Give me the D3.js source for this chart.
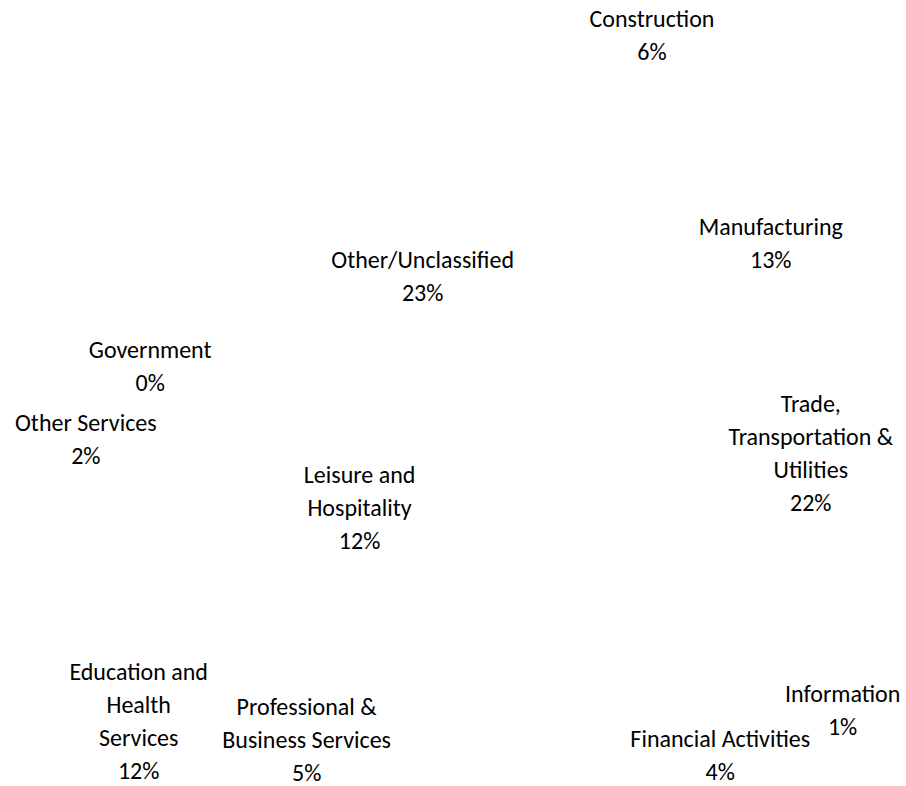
<!DOCTYPE html>
<html>
<head>
<meta charset="utf-8">
<script src="https://cdn.jsdelivr.net/npm/d3@7"></script>
<style>
    html, body { margin: 0; padding: 0; background: #ffffff; }
    #vis1 { display: block; }
</style>
</head>
<body>
<svg id="vis1" width="906" height="786"></svg>
<script>
/**
 * Chart data (clockwise from 12 o'clock)
 */
var categories = ["Construction", "Manufacturing", "Trade, Transportation & Utilities",
    "Information", "Financial Activities", "Professional & Business Services",
    "Education and Health Services", "Leisure and Hospitality", "Other Services",
    "Government", "Other/Unclassified"];
var shares = [6, 13, 22, 1, 4, 5, 12, 12, 2, 0, 23];
// how each category name wraps in its data label
var labelLines = [["Construction"], ["Manufacturing"], ["Trade,", "Transportation &", "Utilities"],
    ["Information"], ["Financial Activities"], ["Professional &", "Business Services"],
    ["Education and", "Health", "Services"], ["Leisure and", "Hospitality"], ["Other Services"],
    ["Government"], ["Other/Unclassified"]];

/**
 * Label layout: inside labels sit on the inner label arc, the rest on the outer one,
 * then get nudged the way the original "best fit" placement moved them
 */
var insideLabels = ["Manufacturing", "Trade, Transportation & Utilities",
    "Leisure and Hospitality", "Other/Unclassified"];
var labelNudge = {
    "Construction": [-3, 18],
    "Manufacturing": [14, 10],
    "Trade, Transportation & Utilities": [-7, -34],
    "Information": [59, -44],
    "Financial Activities": [-7, -27],
    "Professional & Business Services": [-311, -69],
    "Education and Health Services": [-271, -51],
    "Leisure and Hospitality": [12, 5],
    "Other Services": [-95, 54],
    "Government": [-33, 6],
    "Other/Unclassified": [8, 54]
};

window.onload = function(){
    drawPie();
};

function drawPie(){
    let svg = d3.select("#vis1");
    let cx = 580, cy = 410, radius = 330;
    let lineHeight = 33;

    let data = categories.map(function(c, i){
        return {name: c, value: shares[i], lines: labelLines[i]};
    });

    let pie = d3.pie()
        .value(function(d){ return d.value; })
        .sort(null);
    let arcs = pie(data);

    let arc = d3.arc().innerRadius(0).outerRadius(radius);
    let innerLabelArc = d3.arc().innerRadius(250).outerRadius(250);
    let outerLabelArc = d3.arc().innerRadius(400).outerRadius(400);

    let g = svg.append("g")
        .attr("transform", `translate(${cx},${cy})`);

    // slices are filled white like the page, so only the labels show
    g.selectAll("path")
        .data(arcs)
        .enter()
        .append("path")
        .attr("d", arc)
        .style("fill", "#ffffff")
        .style("stroke", "none");

    let pctFormat = function(v){ return d3.format(".0f")(v) + "%"; };

    let labels = g.selectAll("text.label")
        .data(arcs)
        .enter()
        .append("text")
        .attr("class", "label")
        .attr("text-anchor", "middle")
        .style("font-family", "Carlito, Calibri, Lato, 'Liberation Sans', sans-serif")
        .style("font-size", "24px")
        .style("fill", "#000000")
        .attr("transform", function(d){
            let c = insideLabels.indexOf(d.data.name) >= 0 ?
                innerLabelArc.centroid(d) : outerLabelArc.centroid(d);
            let n = labelNudge[d.data.name];
            return `translate(${c[0] + n[0]},${c[1] + n[1]})`;
        });

    labels.each(function(d){
        let lines = d.data.lines.concat([pctFormat(d.data.value)]);
        let top = -(lines.length - 1) / 2 * lineHeight;
        d3.select(this).selectAll("tspan")
            .data(lines)
            .enter()
            .append("tspan")
            .attr("x", 0)
            .attr("y", function(t, i){ return top + i * lineHeight; })
            .attr("dominant-baseline", "central")
            .text(function(t){ return t; });
    });
}
</script>
</body>
</html>
